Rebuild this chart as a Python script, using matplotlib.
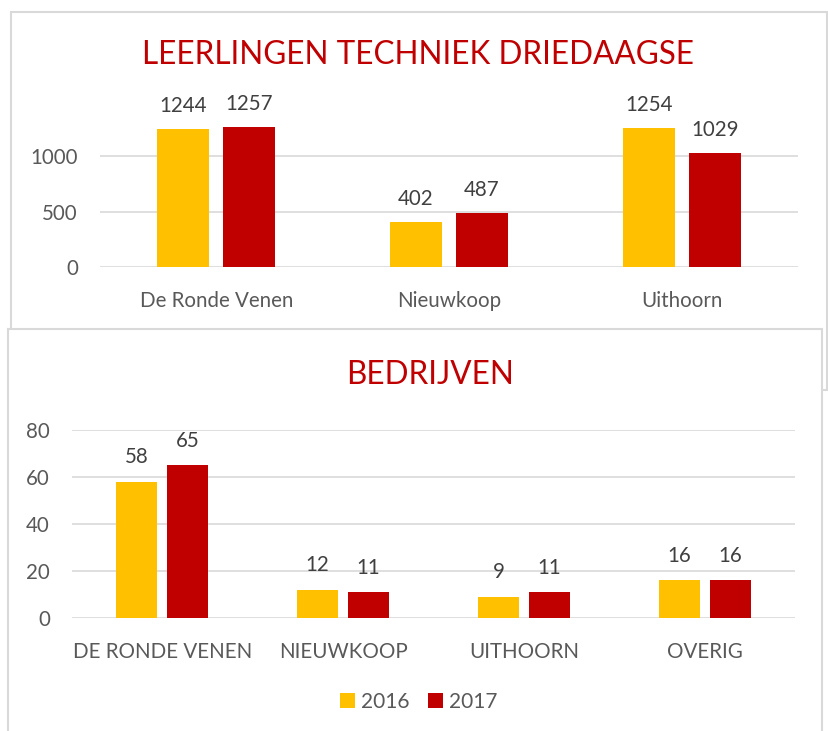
import matplotlib
matplotlib.use('Agg')
import matplotlib.pyplot as plt
from matplotlib.patches import Rectangle
import numpy as np

# data
top_cats = ['De Ronde Venen', 'Nieuwkoop', 'Uithoorn']
top_2016 = [1244, 402, 1254]
top_2017 = [1257, 487, 1029]

bot_cats = ['DE RONDE VENEN', 'NIEUWKOOP', 'UITHOORN', 'OVERIG']
bot_2016 = [58, 12, 9, 16]
bot_2017 = [65, 11, 11, 16]

years = ['2016', '2017']

GOLD = '#FFC000'
RED = '#C00000'
TXT = '#595959'
GRID = '#D9D9D9'

plt.rcParams['font.family'] = ['Lato', 'DejaVu Sans']

W, H = 829, 731
fig = plt.figure(figsize=(W / 100, H / 100), dpi=100)


def px_rect(x0, y0, x1, y1):
    # pixel box (top-left origin) -> figure fraction [l, b, w, h]
    return [x0 / W, 1 - y1 / H, (x1 - x0) / W, (y1 - y0) / H]


def panel(x0, y0, x1, y1, z):
    l, b, w, h = px_rect(x0, y0, x1, y1)
    fig.add_artist(Rectangle((l, b), w, h, transform=fig.transFigure,
                             facecolor='white', edgecolor=GRID, lw=1.5, zorder=z))


def bars(ax, cats, a, b, off, width, ymax, ticks, lab_off):
    x = np.arange(len(cats))
    r1 = ax.bar(x - off, a, width, color=GOLD, label=years[0], zorder=3)
    r2 = ax.bar(x + off, b, width, color=RED, label=years[1], zorder=3)
    for rects, vals in [(r1, a), (r2, b)]:
        for r, v in zip(rects, vals):
            ax.annotate(str(v), (r.get_x() + r.get_width() / 2, r.get_height()),
                        xytext=(0, lab_off), textcoords='offset points',
                        ha='center', va='bottom', fontsize=14.8, color='#404040')
    ax.set_xlim(-0.5, len(cats) - 0.5)
    ax.set_ylim(0, ymax)
    ax.set_yticks(ticks)
    ax.set_xticks(x)
    ax.set_xticklabels(cats)
    ax.tick_params(length=0, labelsize=14.8, colors=TXT)
    ax.tick_params(axis='y', pad=16)
    ax.tick_params(axis='x', pad=17)
    ax.grid(axis='y', color=GRID, lw=1.2, zorder=0)
    ax.set_axisbelow(True)
    for s in ax.spines.values():
        s.set_visible(False)
    ax.set_facecolor('none')


# top panel
panel(11, 12, 827, 390, 0.5)
ax1 = fig.add_axes(px_rect(100, 111.6, 798, 267), zorder=1)
bars(ax1, top_cats, top_2016, top_2017, 0.142, 0.224, 1400, [0, 500, 1000], 9.5)
fig.text(418 / W, 1 - 55 / H, 'LEERLINGEN TECHNIEK DRIEDAAGSE', ha='center', va='center',
         fontsize=22.7, color=RED, zorder=2)

# bottom panel (overlaps the top one)
panel(8, 329, 822, 760, 2)
ax2 = fig.add_axes(px_rect(72, 430, 795, 618), zorder=3)
bars(ax2, bot_cats, bot_2016, bot_2017, 0.141, 0.227, 80, [0, 20, 40, 60, 80], 10.5)
fig.text(430 / W, 1 - 375 / H, 'BEDRIJVEN', ha='center', va='center',
         fontsize=22.7, color=RED, zorder=4)
fig.legend(*ax2.get_legend_handles_labels(), loc='center', bbox_to_anchor=(419 / W, 1 - 702 / H),
           ncol=2, frameon=False, fontsize=15, labelcolor=TXT, handlelength=0.7,
           handleheight=0.7, handletextpad=0.3, columnspacing=0.9)

fig.savefig('out.png', dpi=100)
